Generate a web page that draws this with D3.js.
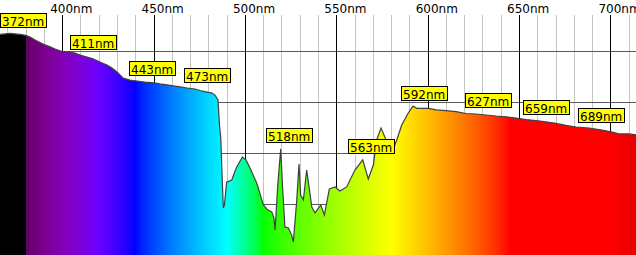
<!DOCTYPE html>
<html>
<head>
<meta charset="utf-8">
<script src="https://cdn.jsdelivr.net/npm/d3@7"></script>
<style>
  body { margin: 0; background: #fff; }
  svg text { font-family: "DejaVu Sans", Verdana, sans-serif; font-size: 12px; fill: #000; }
</style>
</head>
<body>
<svg id="chart" width="636" height="255"></svg>
<script>
// measured spectrum, wavelength in nm and relative intensity (0..100)
const wavelengths = [
  366, 368.7, 371.5, 374.2, 376.9, 380.2, 382.4, 385.2, 389.5, 393.4,
  396.1, 399.9, 404.3, 407, 409.8, 413.6, 416.9, 420.7, 424.5, 427.3,
  430.6, 433.3, 437.1, 441, 445.3, 450.3, 453.5, 457.4, 460.7, 464.5,
  468.3, 472.7, 475.4, 479.3, 482, 483.6, 485.3, 486.1, 486.8, 487.5,
  488.2, 488.8, 490, 492.8, 495.5, 498.6, 500.6, 502.8, 506.5, 510.1,
  512.6, 514.7, 515.9, 516.5, 518, 519.6, 520.7, 521.9, 523.8, 525.6,
  526.5, 528.3, 529.6, 530.5, 532, 533.8, 535.1, 536.6, 538.4, 541.5,
  543.5, 546.2, 549.3, 552, 555.7, 560.2, 564.5, 567.5, 570.3, 572.1,
  574.5, 576.1, 580.3, 583.1, 585.8, 589.4, 592, 594, 600.4, 604.6,
  610, 615.5, 621, 626.4, 631.9, 637.4, 642.9, 648.3, 653.8, 659.3,
  664.7, 670.2, 675.7, 681.2, 688.3, 695.4, 700.9, 704.7, 710.2, 714
];
const intensity = [
  86.5, 86.7, 86.9, 86.7, 86.5, 86.1, 85.5, 84.3, 82.7, 81.6,
  80.8, 79.8, 79.6, 79.2, 78.4, 77.6, 76.9, 75.7, 74.5, 73.3,
  71.4, 69.4, 68.6, 68.2, 67.8, 67.5, 67.1, 66.7, 66.3, 65.9,
  65.5, 65.1, 64.5, 63.9, 63.5, 62.7, 60.8, 51, 45.9, 31.4,
  18.4, 19.6, 28.6, 29.4, 34.5, 38.4, 37.3, 34.1, 28.2, 19.6,
  17.6, 16.9, 14.5, 9.8, 27.5, 41.6, 25.5, 11, 10.6, 7.8,
  5.1, 20.8, 35.7, 23.5, 21.6, 33.3, 26.7, 18.8, 16.5, 19.6,
  15.7, 25.9, 26.7, 25.1, 26.7, 33.3, 37.3, 29.8, 35.3, 45.1,
  49.8, 47.1, 40, 45.1, 51, 55.7, 58.4, 57.5, 57.5, 56.9,
  56.6, 56.2, 55.5, 55.3, 54.9, 54.5, 54.2, 53.7, 53.1, 52.7,
  52.2, 51.6, 50.8, 50.2, 49.8, 49, 48.2, 47.5, 47.5, 47.1
];
const peakLabels = [372, 411, 443, 473, 518, 563, 592, 627, 659, 689];
const majorTicks = [400, 450, 500, 550, 600, 650, 700];
const minorTicks = [370, 380, 390, 410, 420, 430, 440, 460, 470, 480, 490, 510, 520, 530, 540,
  560, 570, 580, 590, 610, 620, 630, 640, 660, 670, 680, 690, 710];
const levelLines = [20, 40, 60, 80];

const width = 636, height = 255;
const data = wavelengths.map((nm, i) => ({ nm, v: intensity[i] }));

const x = d3.scaleLinear().domain([366, 714]).range([0, width]);
const y = d3.scaleLinear().domain([0, 100]).range([height, 0]);

// visible spectrum colour for a wavelength
function spectrumColor(nm) {
  if (nm < 380) return '#000';
  let r = 0, g = 0, b = 0;
  if (nm < 440) { r = (440 - nm) / 60; b = 1; }
  else if (nm < 490) { g = (nm - 440) / 50; b = 1; }
  else if (nm < 510) { g = 1; b = (510 - nm) / 20; }
  else if (nm < 580) { r = (nm - 510) / 70; g = 1; }
  else if (nm < 645) { r = 1; g = (645 - nm) / 65; }
  else { r = 1; }
  let f = 1;
  if (nm < 420) f = 0.3 + 0.7 * (nm - 380) / 40;
  else if (nm > 700) f = 0.3 + 0.7 * (780 - nm) / 80;
  const c = v => Math.round(255 * Math.pow(v * f, 0.8));
  return d3.rgb(c(r), c(g), c(b)).formatHex();
}

const svg = d3.select('#chart');

const stops = [{ nm: 366 }, { nm: 379.99 }];
for (let nm = 380; nm <= 714; nm += 1) stops.push({ nm });

svg.append('defs')
  .append('linearGradient')
  .attr('id', 'spectrum')
  .attr('gradientUnits', 'userSpaceOnUse')
  .attr('x1', x(366)).attr('x2', x(714))
  .attr('y1', 0).attr('y2', 0)
  .selectAll('stop')
  .data(stops)
  .enter()
  .append('stop')
  .attr('offset', d => (d.nm - 366) / 348)
  .attr('stop-color', d => spectrumColor(d.nm));

// grid
svg.selectAll('line.minor')
  .data(minorTicks)
  .enter()
  .append('line')
  .classed('minor', true)
  .attr('x1', d => Math.round(x(d)) + 0.5)
  .attr('x2', d => Math.round(x(d)) + 0.5)
  .attr('y1', 15).attr('y2', height)
  .attr('stroke', '#c4c4c4');

svg.selectAll('line.level')
  .data(levelLines)
  .enter()
  .append('line')
  .classed('level', true)
  .attr('x1', 0).attr('x2', width)
  .attr('y1', d => Math.round(y(d)) + 0.5)
  .attr('y2', d => Math.round(y(d)) + 0.5)
  .attr('stroke', '#5a5a5a');

svg.selectAll('line.major')
  .data(majorTicks)
  .enter()
  .append('line')
  .classed('major', true)
  .attr('x1', d => Math.round(x(d)) + 0.5)
  .attr('x2', d => Math.round(x(d)) + 0.5)
  .attr('y1', 15).attr('y2', height)
  .attr('stroke', '#000');

// spectrum fill and outline
svg.append('path')
  .datum(data)
  .attr('fill', 'url(#spectrum)')
  .attr('d', d3.area().x(d => x(d.nm)).y0(height).y1(d => y(d.v)));

svg.append('path')
  .datum(data)
  .attr('fill', 'none')
  .attr('stroke', '#404040')
  .attr('stroke-width', 1.2)
  .attr('d', d3.line().x(d => x(d.nm)).y(d => y(d.v)));

// wavelength labels on top
svg.selectAll('text.tick')
  .data(majorTicks)
  .enter()
  .append('text')
  .classed('tick', true)
  .attr('x', d => x(d) - 12)
  .attr('y', 13)
  .text(d => d + 'nm');

// peak labels
let boxW = 47, boxH = 14;
let peaks = svg.selectAll('g.peak')
  .data(peakLabels)
  .enter()
  .append('g')
  .classed('peak', true)
  .attr('transform', d => {
    let top = d3.max(data.filter(p => Math.abs(p.nm - d) <= 3), p => p.v);
    let left = Math.max(0, Math.round(x(d) - 12));
    return `translate(${left + 0.5} ${Math.round(y(top) - 6.5 - boxH) + 0.5})`;
  });

peaks.append('rect')
  .attr('width', boxW - 1)
  .attr('height', boxH)
  .attr('fill', '#ffff00')
  .attr('stroke', '#000');

peaks.append('text')
  .attr('x', 1.5)
  .attr('y', boxH - 2)
  .text(d => d + 'nm');
</script>
</body>
</html>
